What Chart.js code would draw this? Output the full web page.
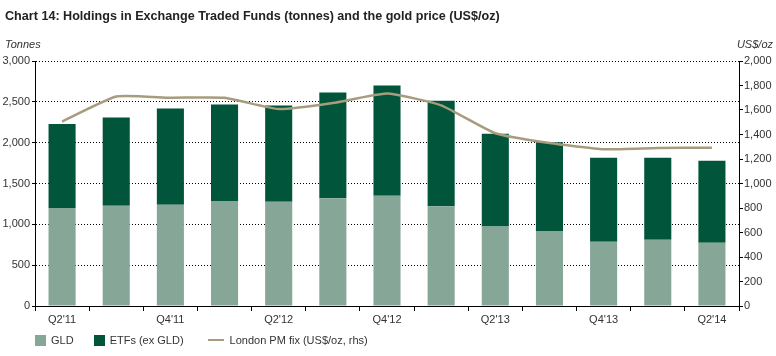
<!DOCTYPE html>
<html>
<head>
<meta charset="utf-8">
<script src="https://cdn.jsdelivr.net/npm/chart.js@4/dist/chart.umd.min.js"></script>
<style>
  html, body { margin: 0; padding: 0; background: #fff; }
  #wrap { position: relative; width: 776px; height: 356px; font-family: "Liberation Sans", Arial, sans-serif; color: #333; }
  #title { position: absolute; left: 5px; top: 9px; font-size: 12.6px; font-weight: bold; color: #222; white-space: nowrap; }
  .unit { position: absolute; top: 38px; font-size: 11px; font-style: italic; color: #333; }
  #uL { left: 5px; }
  #uR { right: 3px; }
  #legend { position: absolute; left: 35px; top: 334px; font-size: 11px; color: #333; display: flex; align-items: center; }
  .li { display: flex; align-items: center; margin-right: 20px; }
  .sw { width: 11px; height: 11px; margin-right: 5px; }
  .ln { width: 16px; height: 2px; margin-right: 6px; }
  canvas { position: absolute; left: 0; top: 0; }
</style>
</head>
<body>
<div id="wrap">
  <canvas id="c" width="776" height="356"></canvas>
  <div id="title">Chart 14: Holdings in Exchange Traded Funds (tonnes) and the gold price (US$/oz)</div>
  <div class="unit" id="uL">Tonnes</div>
  <div class="unit" id="uR">US$/oz</div>
  <div id="legend">
    <div class="li"><div class="sw" style="background:#86a698"></div>GLD</div>
    <div class="li" style="margin-right:24px"><div class="sw" style="background:#00553a"></div>ETFs (ex GLD)</div>
    <div class="li"><div class="ln" style="background:#a89c7e"></div>London PM fix (US$/oz, rhs)</div>
  </div>
</div>
<script>
const categories = ["Q2'11","Q3'11","Q4'11","Q1'12","Q2'12","Q3'12","Q4'12","Q1'13","Q2'13","Q3'13","Q4'13","Q1'14","Q2'14"];
const gld = [1200, 1228, 1240, 1280, 1278, 1318, 1350, 1220, 975, 913, 786, 810, 774];
const etfTotal = [2228, 2308, 2418, 2468, 2455, 2615, 2700, 2512, 2110, 2005, 1815, 1815, 1778];
const etfExGld = etfTotal.map((t, i) => t - gld[i]);
const goldPrice = [1506, 1710, 1700, 1700, 1608, 1657, 1735, 1638, 1410, 1330, 1280, 1290, 1292];
const leftTicks = [0, 500, 1000, 1500, 2000, 2500, 3000];
const rightTicks = [0, 200, 400, 600, 800, 1000, 1200, 1400, 1600, 1800, 2000];

const tickFont = { family: "'Liberation Sans', Arial, sans-serif", size: 11 };
const fmt = v => v.toLocaleString('en-US');

new Chart(document.getElementById('c'), {
  type: 'bar',
  data: {
    labels: categories,
    datasets: [
      { type: 'line', label: 'London PM fix (US$/oz, rhs)', data: goldPrice, yAxisID: 'y1',
        borderColor: '#a89c7e', borderWidth: 2.5, pointRadius: 0, tension: 0.15, order: 0 },
      { label: 'GLD', data: gld, backgroundColor: '#86a698', stack: 's', yAxisID: 'y',
        barPercentage: 0.5, categoryPercentage: 1, order: 1 },
      { label: 'ETFs (ex GLD)', data: etfExGld, backgroundColor: '#00553a', stack: 's', yAxisID: 'y',
        barPercentage: 0.5, categoryPercentage: 1, order: 2 }
    ]
  },
  options: {
    responsive: false,
    animation: false,
    devicePixelRatio: 1,
    layout: { padding: { top: 61, bottom: 30, left: 0, right: 0 } },
    plugins: { legend: { display: false }, tooltip: { enabled: false } },
    scales: {
      x: {
        stacked: true,
        grid: { display: true, drawOnChartArea: false, drawTicks: true, tickLength: 5, color: '#000', offset: true },
        border: { display: true, color: '#000', width: 1 },
        ticks: { autoSkip: false, maxRotation: 0, color: '#333', font: tickFont, padding: 2,
          callback: function(v, i) { return i % 2 === 0 ? categories[i] : ''; } },
        afterFit: s => { s.height = 20; }
      },
      y: {
        position: 'left', stacked: true, min: 0, max: 3000,
        afterBuildTicks: s => { s.ticks = leftTicks.map(v => ({ value: v })); },
        grid: { color: '#000', lineWidth: 1, drawTicks: true, tickLength: 3, tickColor: '#000', tickBorderDash: [] },
        border: { display: true, color: '#000', width: 1, dash: [1, 2] },
        ticks: { color: '#333', font: tickFont, padding: 2, callback: v => fmt(v) },
        afterFit: s => { s.width = 35; }
      },
      y1: {
        position: 'right', min: 0, max: 2000,
        afterBuildTicks: s => { s.ticks = rightTicks.map(v => ({ value: v })); },
        grid: { drawOnChartArea: false, drawTicks: true, tickLength: 4, color: '#000' },
        border: { display: true, color: '#000', width: 1 },
        ticks: { color: '#333', font: tickFont, padding: 1, callback: v => fmt(v) },
        afterFit: s => { s.width = 37; }
      }
    }
  }
});
</script>
</body>
</html>
